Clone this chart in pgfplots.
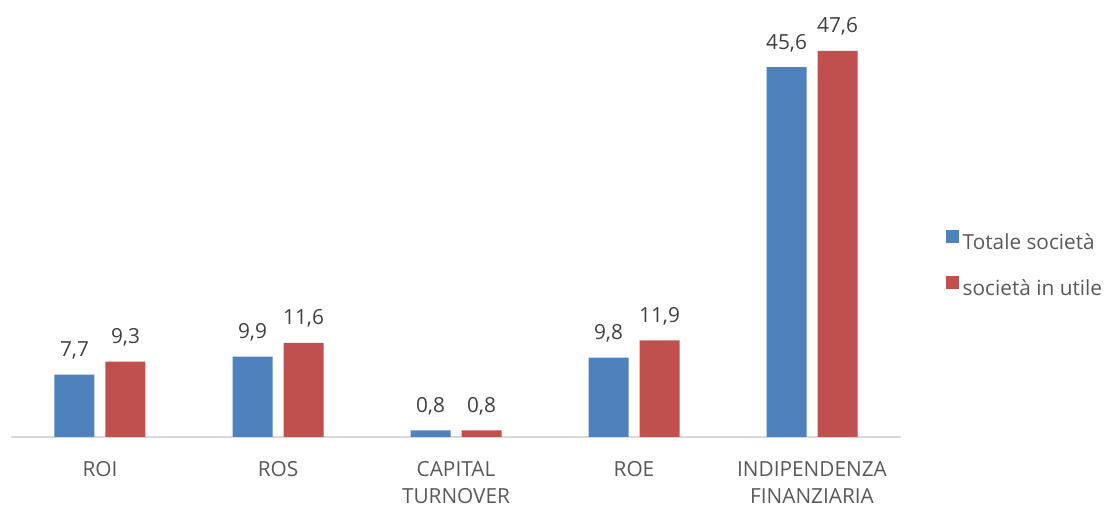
\documentclass[border=0pt]{standalone}
\usepackage{pgfplots}
\pgfplotsset{compat=1.18}
\usepackage{fontspec}
\setmainfont{Open Sans}
\definecolor{serA}{HTML}{4F81BD}
\definecolor{serB}{HTML}{C0504D}
\definecolor{axgray}{HTML}{D9D9D9}
\definecolor{txtgray}{HTML}{595959}
\definecolor{lblgray}{HTML}{404040}
\newcommand{\chartfont}{\fontsize{10.4}{13.6}\selectfont}
\begin{document}
\begin{tikzpicture}
  \useasboundingbox (-5.5pt,-34.5pt) rectangle (547pt,218.5pt);
  \begin{axis}[
    at={(0,0)}, anchor=south west,
    scale only axis, width=445pt, height=202.75pt,
    ybar=5.5pt, bar width=20pt,
    xmin=-0.5, xmax=4.5, ymin=0, ymax=50,
    xtick=data,
    xticklabels={ROI, ROS, {CAPITAL\\TURNOVER}, ROE, {INDIPENDENZA\\FINANZIARIA}},
    major tick length=0pt,
    axis x line*=bottom, axis y line=none,
    x axis line style={draw=axgray, line width=0.6pt, -},
    xticklabel style={font=\chartfont, text=txtgray, align=center, anchor=north, inner sep=0pt, yshift=-12pt},
    nodes near coords,
    every node near coord/.append style={font=\chartfont, text=lblgray, anchor=base, yshift=9pt},
    /pgf/number format/.cd, use comma, fixed, fixed zerofill, precision=1, assume math mode=true,
    /pgfplots/.cd,
    legend image code/.code={\fill[#1] (-1.5pt,0pt) rectangle (4.8pt,6.3pt);},
    legend cell align=left,
    legend style={font=\chartfont, text=txtgray, draw=none, fill=none,
      at={(1.0435,0.4217)}, anchor=west, row sep=9.5pt,
      /tikz/every even column/.append style={column sep=0pt}},
  ]
    \addplot[draw=none, fill=serA] coordinates {(0,7.7) (1,9.9) (2,0.8) (3,9.8) (4,45.6)};
    \addplot[draw=none, fill=serB] coordinates {(0,9.3) (1,11.6) (2,0.8) (3,11.9) (4,47.6)};
    \legend{Totale società, società in utile}
  \end{axis}
\end{tikzpicture}
\end{document}
